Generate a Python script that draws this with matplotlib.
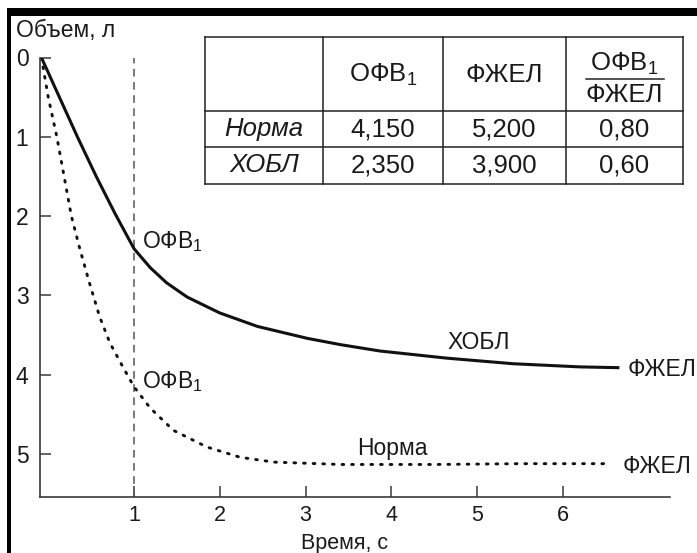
import matplotlib
matplotlib.use("Agg")
import matplotlib.pyplot as plt
from matplotlib.patches import Rectangle
from matplotlib.lines import Line2D

plt.rcParams['font.family'] = ['Liberation Sans', 'DejaVu Sans']
plt.rcParams['mathtext.fontset'] = 'custom'
plt.rcParams['mathtext.rm'] = 'Liberation Sans'
plt.rcParams['mathtext.it'] = 'Liberation Sans:italic'
plt.rcParams['mathtext.bf'] = 'Liberation Sans:bold'

# ---- data ----
t_copd = [-0.08, 0.13, 0.34, 0.56, 0.78, 1.0, 1.19, 1.38, 1.62, 2.0, 2.44, 3.02,
          3.41, 3.87, 4.65, 5.42, 6.2, 6.66]
v_copd = [0.0, 0.5, 1.0, 1.5, 1.97, 2.41, 2.65, 2.84, 3.02, 3.22, 3.39, 3.54,
          3.62, 3.70, 3.79, 3.86, 3.90, 3.91]

t_norm = [-0.08, 0.0, 0.10, 0.27, 0.37, 0.48, 0.60, 0.72, 0.87, 1.0, 1.19, 1.46,
          1.85, 2.24, 2.63, 3.41, 4.5, 5.5, 6.53]
v_norm = [0.0, 0.5, 1.0, 2.0, 2.42, 2.84, 3.27, 3.60, 3.90, 4.15, 4.42, 4.70,
          4.91, 5.04, 5.10, 5.13, 5.13, 5.12, 5.12]

x_ticks = [1, 2, 3, 4, 5, 6]
y_ticks = [0, 1, 2, 3, 4, 5]

table_cols = ["ОФВ$_1$", "ФЖЕЛ"]
ratio_top = "ОФВ$_1$"
ratio_bottom = "ФЖЕЛ"
table_rows = ["Норма", "ХОБЛ"]
fev1_vals = ["4,150", "2,350"]
fvc_vals = ["5,200", "3,900"]
ratio_vals = ["0,80", "0,60"]

W, H = 697, 553
fig = plt.figure(figsize=(W / 100, H / 100), dpi=100)

# frame pieces (black bar on top, line on left)
fig.patches.append(Rectangle((7 / W, 0), 4 / W, (H - 8) / H, transform=fig.transFigure,
                             facecolor='black', edgecolor='none'))
fig.patches.append(Rectangle((7 / W, 1 - 16 / H), (W - 7) / W, 8 / H, transform=fig.transFigure,
                             facecolor='black', edgecolor='none'))

ax = fig.add_axes([39.5 / W, 1 - 497 / H, (670 - 39.5) / W, (497 - 57.5) / H])
ax.set_xlim(-0.102, 7.25)
ax.set_ylim(5.54, 0)

spine_col = '#3a3a3a'
for s in ['top', 'right']:
    ax.spines[s].set_visible(False)
for s in ['left', 'bottom']:
    ax.spines[s].set_color(spine_col)
    ax.spines[s].set_linewidth(1.2)

fs = 16.5
tfs_tick = 15.5
tc = '#1a1a1a'

ax.set_xticks(x_ticks)
ax.set_xticklabels([str(v) for v in x_ticks])
ax.set_yticks(y_ticks)
ax.set_yticklabels([str(v) for v in y_ticks])
ax.tick_params(axis='both', direction='in', length=8, width=1.1, color=spine_col,
               labelsize=tfs_tick, labelcolor=tc)
ax.tick_params(axis='y', pad=8, labelsize=fs)
ax.tick_params(axis='x', pad=6)

ax.axvline(1, color='#555555', lw=1.1, dashes=(5, 3.6))

ax.plot(t_copd, v_copd, color='#111111', lw=2.2, solid_capstyle='butt',
        solid_joinstyle='round')
ax.plot(t_norm, v_norm, color='#111111', lw=2.1, linestyle=(0, (0.6, 2.7)),
        dash_capstyle='round')

ax.text(1.09, 2.40, "ОФВ$_1$", fontsize=fs, color=tc, ha='left', va='baseline')
ax.text(1.09, 4.17, "ОФВ$_1$", fontsize=fs, color=tc, ha='left', va='baseline')
ax.text(4.66, 3.68, "ХОБЛ", fontsize=fs, color=tc, ha='left', va='baseline')
ax.text(3.60, 5.01, "Норма", fontsize=fs, color=tc, ha='left', va='baseline')
ax.text(6.76, 3.93, "ФЖЕЛ", fontsize=fs, color=tc, ha='left', va='center')
ax.text(6.70, 5.15, "ФЖЕЛ", fontsize=fs, color=tc, ha='left', va='center')

fig.text(16 / W, 1 - 37 / H, "Объем, л", fontsize=fs, color=tc, ha='left', va='baseline')
fig.text(345 / W, 1 - 549 / H, "Время, с", fontsize=15.5, color=tc, ha='center', va='baseline')

# ---- table (drawn in pixel layout on an overlay axes) ----
tax = fig.add_axes([0, 0, 1, 1])
tax.set_xlim(0, W)
tax.set_ylim(H, 0)
tax.axis('off')
col_edges = [205, 323, 443, 566, 683]
row_edges = [37, 111, 147, 184]
lc = '#222222'
for x in col_edges:
    tax.add_line(Line2D([x, x], [row_edges[0], row_edges[-1]], color=lc, lw=1.1))
for y in row_edges:
    tax.add_line(Line2D([col_edges[0], col_edges[-1]], [y, y], color=lc, lw=1.1))

tfs = 18.5
hy = (row_edges[0] + row_edges[1]) / 2
for i, lab in enumerate(table_cols):
    cx = (col_edges[i + 1] + col_edges[i + 2]) / 2
    tax.text(cx, hy + 1, lab, fontsize=tfs, color=tc, ha='center', va='center')
cx = (col_edges[3] + col_edges[4]) / 2
tax.text(cx, 71, ratio_top, fontsize=tfs, color=tc, ha='center', va='baseline')
tax.add_line(Line2D([cx - 39, cx + 39], [79, 79], color=lc, lw=1.1))
tax.text(cx, 102, ratio_bottom, fontsize=tfs, color=tc, ha='center', va='baseline')

for r in range(2):
    cy = (row_edges[r + 1] + row_edges[r + 2]) / 2
    vals = [table_rows[r], fev1_vals[r], fvc_vals[r], ratio_vals[r]]
    for c, v in enumerate(vals):
        cx = (col_edges[c] + col_edges[c + 1]) / 2
        tax.text(cx, cy, v, fontsize=tfs, color=tc, ha='center', va='center',
                 style='italic' if c == 0 else 'normal')

fig.savefig("out.png", dpi=100)
